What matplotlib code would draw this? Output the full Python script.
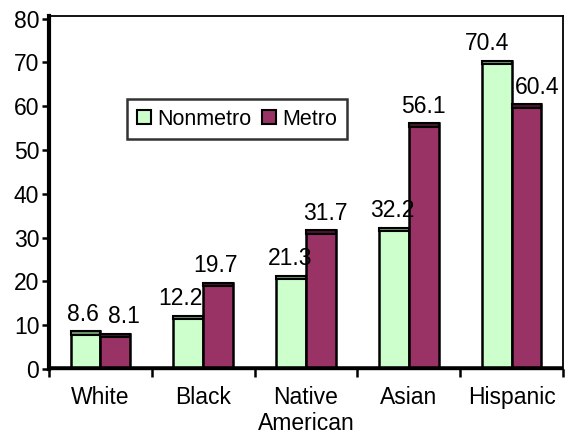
import matplotlib

matplotlib.use("Agg")
import matplotlib.pyplot as plt
import numpy as np
from matplotlib.patches import Patch

plt.rcParams["font.family"] = ["Liberation Sans", "DejaVu Sans"]

# rates by race/ethnicity, nonmetro vs metro
categories = ["White", "Black", "Native\nAmerican", "Asian", "Hispanic"]
nonmetro = [8.6, 12.2, 21.3, 32.2, 70.4]
metro = [8.1, 19.7, 31.7, 56.1, 60.4]
series_names = ["Nonmetro", "Metro"]

# horizontal nudges (points) so neighbouring value labels don't collide
nonmetro_nudge = [-2, -6, -1, -1, -7]
metro_nudge = [6, -2, 3, 0, 8]

NONMETRO_FACE = "#ccffcc"
NONMETRO_TOP = "#6f9a6f"
METRO_FACE = "#993366"
METRO_TOP = "#4a1530"
FS = 16.5

fig = plt.figure(figsize=(5.7, 4.34), dpi=100)
ax = fig.add_axes([49 / 570, 1 - 369 / 434, 514 / 570, 353 / 434])

x = np.arange(len(categories)) + 0.5
width = 0.29
cap = 0.8  # thickness of the darker top face, in data units

for vals, offset, face, top, nudges in [
    (nonmetro, -width / 2, NONMETRO_FACE, NONMETRO_TOP, nonmetro_nudge),
    (metro, width / 2, METRO_FACE, METRO_TOP, metro_nudge),
]:
    vals = np.asarray(vals)
    ax.bar(x + offset, vals, width, color=face, edgecolor="black", linewidth=1.8, zorder=3)
    ax.bar(x + offset, np.full(len(vals), cap), width, bottom=vals - cap,
           color=top, edgecolor="black", linewidth=1.5, zorder=4)
    for xi, v, dx in zip(x + offset, vals, nudges):
        ax.annotate(f"{v}", (xi, v), xytext=(dx, 4), textcoords="offset points",
                    ha="center", va="bottom", fontsize=FS, zorder=6)

ax.set_xlim(0, len(categories))
ax.set_ylim(0, 80.6)
ax.set_yticks(np.arange(0, 81, 10))

# tick marks sit between categories, labels at the category centres
ax.set_xticks(np.arange(len(categories) + 1))
ax.set_xticklabels([])
ax.set_xticks(x, minor=True)
ax.set_xticklabels(categories, minor=True, fontsize=FS, linespacing=1.2)
ax.tick_params(axis="x", which="minor", length=0, pad=12)
ax.tick_params(axis="x", which="major", length=6, width=1.8, direction="out")
ax.tick_params(axis="y", length=5, width=1.8, labelsize=FS, pad=2)

# floor line
ax.axhline(0, color="black", linewidth=4, zorder=5)

for side in ["top", "right"]:
    ax.spines[side].set_linewidth(1.3)
ax.spines["left"].set_linewidth(3)
ax.spines["bottom"].set_linewidth(1)

handles = [
    Patch(facecolor=NONMETRO_FACE, edgecolor="black", linewidth=1.5),
    Patch(facecolor=METRO_FACE, edgecolor="black", linewidth=1.5),
]
leg = ax.legend(handles, series_names, loc="upper left", bbox_to_anchor=(0.152, 0.765),
                ncol=2, fontsize=15.5, frameon=True, fancybox=False,
                handlelength=0.65, handleheight=0.65, handletextpad=0.3,
                columnspacing=0.5, borderpad=0.45, borderaxespad=0)
leg.get_frame().set_edgecolor("black")
leg.get_frame().set_linewidth(1.8)

fig.savefig("out.png", dpi=100)
